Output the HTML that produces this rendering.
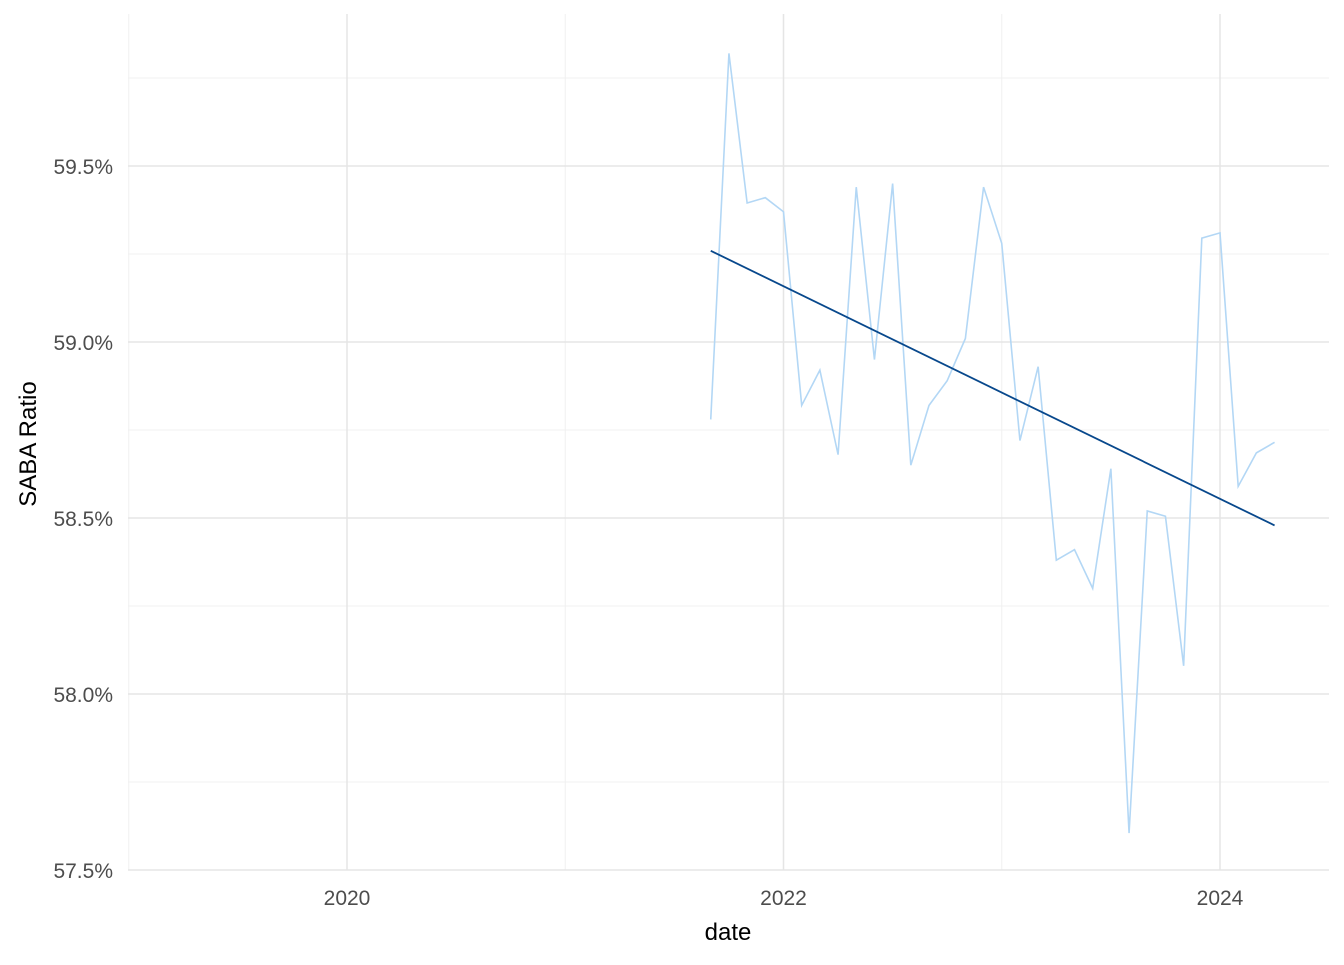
<!DOCTYPE html>
<html><head><meta charset="utf-8"><style>
body{margin:0;background:#fff;}
svg{font-family:"Liberation Sans",Arial,sans-serif;}
</style></head><body>
<svg id="chart" width="1344" height="960">
<g id="grid"></g>
<g id="axes"></g>
<g id="series"></g>
<text x="728" y="940" text-anchor="middle" font-size="24" fill="#000">date</text>
<text transform="translate(36,444) rotate(-90)" text-anchor="middle" font-size="24" fill="#000">SABA Ratio</text>
</svg>
<script>
const dates=["2021-09","2021-10","2021-11","2021-12","2022-01","2022-02","2022-03","2022-04","2022-05","2022-06","2022-07","2022-08","2022-09","2022-10","2022-11","2022-12","2023-01","2023-02","2023-03","2023-04","2023-05","2023-06","2023-07","2023-08","2023-09","2023-10","2023-11","2023-12","2024-01","2024-02","2024-03","2024-04"];
const values=[58.78,59.82,59.395,59.41,59.37,58.82,58.92,58.68,59.44,58.95,59.45,58.65,58.82,58.89,59.01,59.44,59.28,58.72,58.93,58.38,58.41,58.30,58.64,57.605,58.52,58.505,58.08,59.295,59.31,58.59,58.685,58.715];
const yTicks=[57.5,58.0,58.5,59.0,59.5];
const yMinor=[57.75,58.25,58.75,59.25,59.75];
const xTicks=[2020,2022,2024];
const xMinor=[2019,2021,2023];
const L=128,R=1329,T=14,B=870;
const xs=yr=>347+(yr-2020)*218.25;
const ys=v=>870-(v-57.5)*352;
const dec=d=>{const [y,m]=d.split("-").map(Number);return y+(m-1)/12;};
const NS="http://www.w3.org/2000/svg";
function mk(p,tag,at){const e=document.createElementNS(NS,tag);for(const k in at)e.setAttribute(k,at[k]);p.appendChild(e);return e;}
const grid=document.getElementById("grid"),axes=document.getElementById("axes"),ser=document.getElementById("series");
yMinor.forEach(v=>{const e=mk(grid,"line",{x1:L,x2:R,y1:ys(v),y2:ys(v),stroke:"#f0f0f0","stroke-width":1});

});
xMinor.forEach(v=>{const e=mk(grid,"line",{x1:xs(v),x2:xs(v),y1:T,y2:B,stroke:"#f0f0f0","stroke-width":1});

});
yTicks.forEach(v=>{const e=mk(grid,"line",{x1:L,x2:R,y1:ys(v),y2:ys(v),stroke:"#e5e5e5","stroke-width":1.5});


const t=mk(axes,"text",{x:113,y:ys(v)+8,"text-anchor":"end","font-size":21,fill:"#4d4d4d"});t.textContent=v.toFixed(1)+"%";

});
xTicks.forEach(v=>{const e=mk(grid,"line",{x1:xs(v),x2:xs(v),y1:T,y2:B,stroke:"#e5e5e5","stroke-width":1.5});


const t=mk(axes,"text",{x:xs(v),y:905,"text-anchor":"middle","font-size":21,fill:"#4d4d4d"});t.textContent=v;

});
const X=dates.map(dec);
const pl=mk(ser,"polyline",{points:X.map((x,i)=>xs(x)+","+ys(values[i])).join(" "),fill:"none",stroke:"#b3d7f5","stroke-width":1.6});


const n=X.length,mx=X.reduce((a,b)=>a+b)/n,my=values.reduce((a,b)=>a+b)/n;
let sxy=0,sxx=0;X.forEach((x,i)=>{sxy+=(x-mx)*(values[i]-my);sxx+=(x-mx)*(x-mx);});
const sl=sxy/sxx,ic=my-sl*mx;
const x0=X[0],x1=X[n-1];
const tl=mk(ser,"line",{x1:xs(x0),y1:ys(ic+sl*x0),x2:xs(x1),y2:ys(ic+sl*x1),stroke:"#08488c","stroke-width":1.8});


</script>
</body></html>
